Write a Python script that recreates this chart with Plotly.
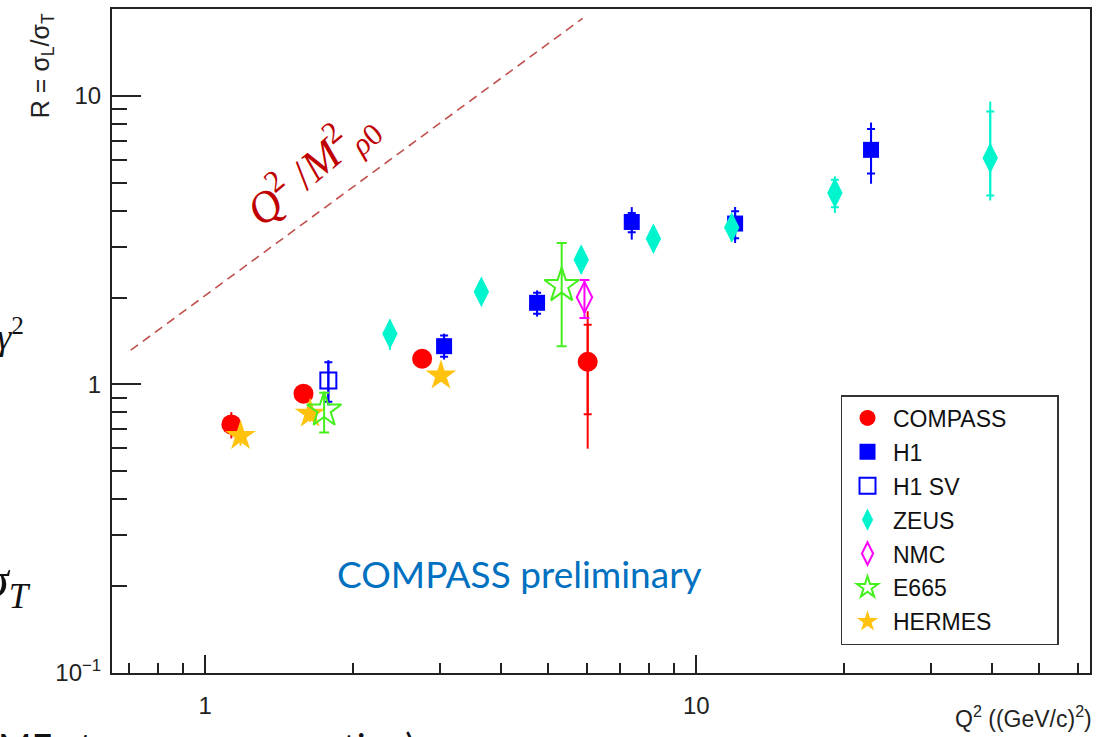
import plotly.graph_objects as go

# ---- data: R = sigma_L / sigma_T versus Q^2 ----
compass_q2 = [1.13, 1.585, 2.765, 6.01]
compass_r = [0.727, 0.929, 1.227, 1.198]
compass_tot_up = [0.075, 0.04, 0.04, 0.595]
compass_tot_dn = [0.077, 0.04, 0.04, 0.599]
compass_stat_up = [None, None, None, 0.411]
compass_stat_dn = [None, None, None, 0.409]

h1_q2 = [3.065, 4.74, 7.39, 12.0, 22.7]
h1_r = [1.357, 1.918, 3.656, 3.61, 6.50]
h1_tot_up = [0.143, 0.20, 0.46, 0.51, 1.58]
h1_tot_dn = [0.137, 0.20, 0.48, 0.52, 1.54]
h1_stat_up = [0.12, 0.16, 0.27, 0.37, 1.17]
h1_stat_dn = [0.11, 0.16, 0.29, 0.40, 1.12]

h1sv_q2 = [1.781]
h1sv_r = [1.032]
h1sv_tot_up = [0.182]
h1sv_tot_dn = [0.186]
h1sv_stat_up = [0.162]
h1sv_stat_dn = [0.161]

zeus_q2 = [2.377, 3.65, 5.83, 8.18, 11.81, 19.16, 39.7]
zeus_r = [1.497, 2.094, 2.707, 3.20, 3.50, 4.61, 6.09]
zeus_tot_up = [0.18, 0.10, 0.29, 0.12, 0.32, 0.65, 3.46]
zeus_tot_dn = [0.18, 0.10, 0.29, 0.12, 0.37, 0.68, 1.75]
zeus_stat_up = [None, None, None, None, None, 0.51, 2.74]
zeus_stat_dn = [None, None, None, None, None, 0.50, 1.57]

nmc_q2 = [5.92]
nmc_r = [2.005]
nmc_up = [0.295]
nmc_dn = [0.305]

e665_q2 = [1.746, 5.32]
e665_r = [0.815, 2.20]
e665_up = [0.121, 0.89]
e665_dn = [0.134, 0.843]

hermes_q2 = [1.18, 1.635, 3.02]
hermes_r = [0.663, 0.792, 1.074]
hermes_up = [0.03, 0.03, 0.03]
hermes_dn = [0.05, 0.05, 0.05]

# reference line R = Q^2 / M_rho0^2 (end points)
qm_q2 = [0.705, 5.87]
qm_r = [1.314, 18.57]

x_major = [1, 10]
x_major_text = ["1", "10"]
x_minor = [0.7, 0.8, 0.9, 2, 3, 4, 5, 6, 7, 8, 9, 20, 30, 40, 50, 60]
y_major = [0.1, 1, 10]
y_major_text = ["10<sup>\u22121</sup>", "1", "10"]
y_minor = [0.2, 0.3, 0.4, 0.5, 0.6, 0.7, 0.8, 0.9, 2, 3, 4, 5, 6, 7, 8, 9, 20]

RED = "#FF0000"
BLUE = "#0000FF"
TEAL = "#00F5CF"
MAGENTA = "#FF00FF"
GREEN = "#44F01C"
GOLD = "#FFC20E"

W, H = 1099, 737
ML, MR, MT, MB = 112, 7, 9, 64


def px(xp):
    return (xp - ML) / (W - ML - MR)


def py(yp):
    return (H - MB - yp) / (H - MT - MB)


fig = go.Figure()

# statistical error ticks (drawn first, underneath the markers)
for q2, r, up, dn, col in [
    (compass_q2, compass_r, compass_stat_up, compass_stat_dn, RED),
    (h1_q2, h1_r, h1_stat_up, h1_stat_dn, BLUE),
    (h1sv_q2, h1sv_r, h1sv_stat_up, h1sv_stat_dn, BLUE),
    (zeus_q2, zeus_r, zeus_stat_up, zeus_stat_dn, TEAL),
]:
    fig.add_trace(go.Scatter(
        x=q2, y=r, mode="markers", showlegend=False, hoverinfo="skip",
        marker=dict(size=2, color="rgba(0,0,0,0)"),
        error_y=dict(type="data", symmetric=False, array=up, arrayminus=dn,
                     color=col, thickness=2, width=4),
    ))

# trailing no-break spaces widen the legend box
PAD = "\u00a0" * 7


def series(name, q2, r, up, dn, col, symbol, size, rank, cap=0, line_w=0, fill=None):
    fig.add_trace(go.Scatter(
        x=q2, y=r, mode="markers", name=name, legendrank=rank,
        legendgroup=name,
        marker=dict(symbol=symbol, size=size, color=fill or col,
                    line=dict(color=col, width=line_w)),
        error_y=dict(type="data", symmetric=False, array=up, arrayminus=dn,
                     color=col, thickness=2, width=cap),
    ))


series("COMPASS" + PAD, compass_q2, compass_r, compass_tot_up, compass_tot_dn, RED, "circle", 20, 1)
series("H1", h1_q2, h1_r, h1_tot_up, h1_tot_dn, BLUE, "square", 16, 2)
series("H1 SV", h1sv_q2, h1sv_r, h1sv_tot_up, h1sv_tot_dn, BLUE, "square-open", 16, 3, line_w=2)
series("ZEUS", zeus_q2, zeus_r, zeus_tot_up, zeus_tot_dn, TEAL, "diamond-tall", 22, 4)
series("NMC", nmc_q2, nmc_r, nmc_up, nmc_dn, MAGENTA, "diamond-tall-open", 22, 5, cap=5, line_w=2)
series("HERMES", hermes_q2, hermes_r, hermes_up, hermes_dn, GOLD, "star", 23, 7)
series("E665", e665_q2, e665_r, e665_up, e665_dn, GREEN, "star-open", 26, 6, cap=5, line_w=2)

# Q^2 / M_rho^2 guide line
fig.add_trace(go.Scatter(
    x=qm_q2, y=qm_r, mode="lines", showlegend=False, hoverinfo="skip",
    line=dict(color="#C0504D", width=1.6, dash="9px,6px"),
))

axis_font = dict(family="Liberation Sans, Arial, sans-serif", size=24, color="#222")

fig.update_xaxes(
    type="log", range=[-0.190, 1.802],
    showline=True, linecolor="#222", linewidth=2, mirror=True,
    showgrid=False, zeroline=False,
    ticks="inside", ticklen=18, tickwidth=1.5, tickcolor="#222",
    tickvals=x_major, ticktext=x_major_text, tickfont=axis_font,
    ticklabelstandoff=10,
    minor=dict(tickvals=x_minor, ticks="inside", ticklen=10, tickwidth=1.5,
               tickcolor="#222", showgrid=False),
)
fig.update_yaxes(
    type="log", range=[-1, 1.301],
    showline=True, linecolor="#222", linewidth=2, mirror=True,
    showgrid=False, zeroline=False,
    ticks="inside", ticklen=29, tickwidth=1.5, tickcolor="#222",
    tickvals=y_major, ticktext=y_major_text, tickfont=axis_font,
    ticklabelstandoff=4,
    minor=dict(tickvals=y_minor, ticks="inside", ticklen=15, tickwidth=1.5,
               tickcolor="#222", showgrid=False),
)


def note(xp, yp, text, font, angle=0, xanchor="center", yanchor="middle"):
    return dict(x=px(xp), y=py(yp), xref="paper", yref="paper", text=text,
                textangle=angle, xanchor=xanchor, yanchor=yanchor,
                showarrow=False, font=font)


sans = "Liberation Sans, Arial, sans-serif"
serif = "Liberation Serif, DejaVu Serif, serif"

annotations = [
    # axis titles
    note(42, 66, "R = \u03c3<sub>L</sub>/\u03c3<sub>T</sub>",
         dict(family=sans, size=25, color="#222"), angle=-90),
    note(1096, 717, "Q<sup>2</sup> ((GeV/c)<sup>2</sup>)",
         dict(family=sans, size=23, color="#222"), xanchor="right"),
    # label of the guide line
    note(312, 168, "<i>Q</i><sup>2</sup> /<i>M</i><sup>2</sup><sub><i>\u03c1</i>0</sub>",
         dict(family=serif, size=44, color="#C00000"), angle=-40),
    note(520, 573, "COMPASS preliminary",
         dict(family="Lato, Open Sans, sans-serif", size=37, color="#0070C0")),
    # slide text around the plot
    note(26, 334, "<i>\u03b3</i><sup>2</sup>",
         dict(family=serif, size=36, color="#111"), xanchor="right"),
    note(33, 584, "<i>\u03c3</i><sub><i>T</i></sub>",
         dict(family=serif, size=50, color="#111"), xanchor="right"),
    note(-4, 722, "ME   t", dict(family="Lato, sans-serif", size=36, color="#111"),
         xanchor="left", yanchor="top"),
    note(418, 722, "ction)", dict(family="Lato, sans-serif", size=36, color="#111"),
         xanchor="right", yanchor="top"),
]

fig.update_layout(
    width=W, height=H,
    margin=dict(l=ML, r=MR, t=MT, b=MB),
    plot_bgcolor="white", paper_bgcolor="white",
    annotations=annotations,
    legend=dict(
        x=px(842), y=py(395), xanchor="left", yanchor="top",
        bgcolor="white", bordercolor="#333", borderwidth=1.5,
        font=dict(family=sans, size=23, color="#111"),
        tracegroupgap=1, itemwidth=41, itemsizing="trace",
    ),
)

fig.write_html("out.html")
